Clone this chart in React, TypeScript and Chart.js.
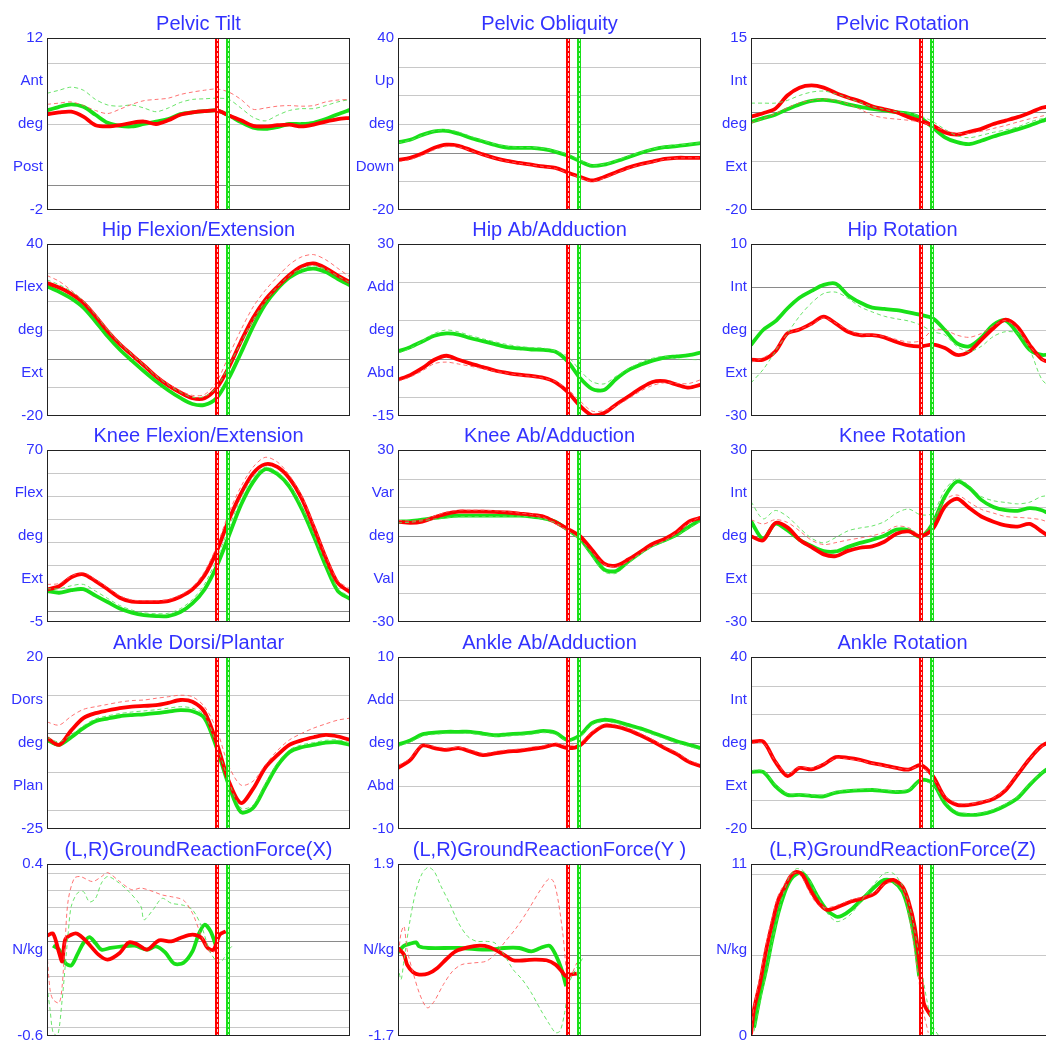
import React, { useEffect, useRef } from "react";
import { Chart, registerables } from "chart.js";
Chart.register(...registerables);

// ---------- shared ----------
const PCT = [0, 4, 8, 12, 16, 20, 24, 28, 32, 36, 40, 44, 48, 52, 56, 60, 64, 68, 72, 76, 80, 84, 88, 92, 96, 100];
const EVENT_RED = 56;
const EVENT_GREEN = 59.7;

// ---------- Pelvic Tilt ----------
const TILT_RED = [5.8, 5.95, 6.0, 5.6, 4.9, 4.8, 4.9, 5.1, 5.2, 5.0, 5.3, 5.75, 5.95, 6.05, 6.1, 5.7, 5.3, 4.85, 4.8, 4.9, 4.95, 4.8, 4.95, 5.2, 5.4, 5.5];
const TILT_GREEN = [6.1, 6.4, 6.6, 6.4, 5.75, 5.1, 4.85, 4.8, 5.0, 5.2, 5.4, 5.8, 5.95, 6.05, 6.1, 5.7, 5.15, 4.7, 4.6, 4.75, 5.0, 5.0, 5.1, 5.4, 5.8, 6.15];
const TILT_RED_REF = [6.6, 6.7, 6.8, 6.5, 6.1, 5.85, 6.2, 6.6, 6.9, 7.0, 7.1, 7.4, 7.6, 7.75, 7.85, 7.6, 7.0, 6.2, 6.3, 6.45, 6.5, 6.45, 6.5, 6.8, 6.95, 7.0];
const TILT_GREEN_REF = [7.5, 7.75, 8.0, 7.75, 7.0, 6.55, 6.45, 6.55, 6.3, 6.0, 6.3, 6.75, 7.0, 7.05, 7.1, 7.0, 6.3, 5.55, 5.25, 5.7, 6.1, 6.25, 6.25, 6.5, 6.8, 7.0];

// ---------- Pelvic Obliquity ----------
const OBL_RED = [-2.5, -1.8, -0.3, 1.7, 2.8, 2.4, 0.9, -0.6, -1.9, -2.9, -3.6, -4.2, -4.8, -5.3, -6.9, -8.4, -9.7, -8.5, -6.8, -5.2, -4.0, -3.1, -2.2, -1.8, -1.8, -1.8];
const OBL_GREEN = [3.65, 4.5, 6.2, 7.4, 7.6, 6.6, 5.1, 3.9, 2.7, 1.8, 1.65, 1.65, 1.2, 0.3, -1.0, -3.0, -4.6, -4.2, -3.0, -1.6, -0.1, 1.1, 1.9, 2.3, 2.8, 3.3];
const OBL_RED_REF = [-3.2, -2.4, -0.9, 1.0, 2.1, 2.0, 0.7, -0.8, -2.0, -3.0, -3.7, -4.3, -4.9, -5.5, -7.1, -8.7, -10.0, -8.9, -7.1, -5.5, -4.2, -3.3, -2.3, -1.9, -1.8, -1.8];
const OBL_GREEN_REF = [3.4, 4.3, 6.0, 7.6, 8.0, 7.2, 5.7, 4.3, 3.0, 2.2, 1.9, 1.8, 1.5, 0.6, -0.5, -2.5, -4.3, -4.0, -2.7, -1.2, 0.2, 1.3, 2.1, 2.6, 3.0, 3.5];

// ---------- Pelvic Rotation ----------
const PROT_RED = [-1.0, -0.3, 0.6, 3.3, 4.9, 5.35, 4.9, 3.8, 2.9, 2.1, 1.1, 0.5, -0.1, -1.1, -1.9, -2.8, -4.2, -4.65, -4.1, -3.5, -2.5, -1.8, -1.1, -0.2, 0.8, 1.3];
const PROT_GREEN = [-2.1, -1.3, -0.6, 0.5, 1.5, 2.2, 2.4, 2.1, 1.5, 1.0, 0.6, 0.25, -0.1, -0.4, -1.3, -3.2, -5.2, -6.2, -6.6, -5.9, -5.05, -4.3, -3.6, -2.8, -1.9, -1.1];
const PROT_RED_REF = [-2.3, -1.4, -0.4, 0.8, 1.8, 2.3, 2.6, 2.3, 1.6, 0.5, -0.7, -1.25, -1.5, -1.75, -2.1, -3.0, -3.8, -4.4, -4.4, -4.0, -3.4, -2.8, -2.1, -1.45, -0.9, -0.3];
const PROT_GREEN_REF = [1.75, 1.75, 1.75, 2.3, 3.3, 4.0, 4.2, 3.65, 2.8, 1.9, 1.06, 0.5, 0.0, -0.3, -0.9, -2.0, -3.6, -4.9, -5.3, -4.8, -4.2, -3.7, -3.1, -2.1, -1.4, -0.8];

// ---------- Hip Flexion/Extension ----------
const HFLX_RED = [26.4, 24.8, 22.6, 19.5, 14.8, 9.6, 5.1, 1.3, -2.4, -6.2, -9.3, -11.8, -13.8, -13.8, -10.2, -3.0, 6.0, 14.2, 20.5, 25.1, 29.2, 32.2, 33.2, 31.6, 29.0, 26.7];
const HFLX_GREEN = [25.2, 23.3, 21.0, 17.8, 13.0, 7.8, 3.2, -0.7, -4.4, -7.9, -11.0, -13.7, -15.8, -16.1, -13.7, -6.8, 2.0, 11.2, 18.9, 24.3, 28.3, 30.6, 31.4, 30.2, 27.8, 25.6];
const HFLX_RED_REF = [29.0, 27.0, 23.8, 20.2, 15.5, 10.2, 5.6, 1.7, -2.0, -5.8, -8.8, -11.2, -12.8, -12.5, -8.0, 1.0, 10.0, 18.0, 23.8, 28.5, 32.8, 35.5, 36.3, 34.5, 31.5, 28.5];
const HFLX_GREEN_REF = [27.5, 25.8, 23.5, 20.0, 15.2, 10.0, 5.3, 1.4, -2.3, -6.1, -9.2, -11.7, -13.5, -13.2, -10.0, -2.5, 5.5, 13.5, 20.0, 25.0, 29.0, 31.5, 32.4, 31.2, 28.8, 26.5];

// ---------- Hip Ab/Adduction ----------
const HABD_RED = [-5.5, -4.3, -2.5, -0.3, 0.76, -0.3, -1.3, -2.2, -3.1, -3.7, -4.2, -4.5, -5.0, -6.2, -8.7, -12.3, -14.8, -14.2, -12.0, -9.9, -7.8, -6.1, -5.9, -6.8, -7.6, -6.8];
const HABD_GREEN = [1.9, 3.0, 4.5, 6.0, 6.6, 6.3, 5.35, 4.6, 3.8, 3.0, 2.7, 2.4, 2.3, 1.8, -0.7, -5.0, -7.9, -8.2, -5.3, -3.0, -1.6, -0.5, 0.3, 0.6, 0.9, 1.6];
const HABD_RED_REF = [-5.9, -4.8, -3.2, -1.3, -0.9, -1.4, -2.0, -2.6, -3.3, -3.8, -4.3, -4.6, -5.1, -6.0, -8.0, -11.0, -13.7, -13.6, -12.3, -10.5, -8.5, -7.0, -6.3, -6.5, -6.5, -5.5];
const HABD_GREEN_REF = [1.45, 2.7, 4.6, 6.6, 7.5, 7.0, 6.0, 5.2, 4.4, 3.7, 3.2, 2.9, 2.75, 2.0, 0.6, -3.0, -6.0, -6.6, -4.6, -2.7, -1.0, 0.1, 0.6, -0.1, -0.2, -0.3];

// ---------- Hip Rotation ----------
const HROT_RED = [-16.9, -16.9, -15.0, -10.8, -9.9, -8.5, -6.9, -8.5, -10.4, -11.2, -11.2, -11.7, -12.8, -13.6, -13.8, -13.4, -14.2, -15.8, -15.0, -12.3, -9.6, -7.6, -9.3, -13.5, -16.8, -17.7];
const HROT_GREEN = [-13.5, -10.0, -8.0, -5.0, -2.5, -0.9, 0.5, 0.77, -1.9, -3.6, -4.8, -5.1, -5.4, -5.9, -6.5, -7.3, -10.0, -13.1, -13.8, -11.8, -8.8, -7.8, -10.8, -14.6, -15.8, -15.5];
const HROT_RED_REF = [-17.5, -16.5, -14.5, -11.0, -9.8, -8.7, -7.2, -8.4, -10.0, -11.0, -11.2, -11.5, -12.2, -12.8, -12.5, -10.0, -10.0, -11.2, -11.7, -10.8, -9.0, -7.8, -9.8, -13.8, -16.8, -18.8];
const HROT_GREEN_REF = [-22.3, -19.2, -15.0, -10.8, -6.8, -3.7, -1.5, -1.2, -2.6, -4.6, -5.8, -6.8, -7.4, -7.9, -8.85, -10.4, -11.15, -13.85, -15.0, -13.8, -11.5, -10.4, -10.8, -14.6, -21.5, -23.8];

// ---------- Knee Flexion/Extension ----------
const KFLX_RED = [9.2, 10.6, 14.5, 15.8, 12.8, 9.3, 5.6, 3.9, 3.7, 3.7, 4.1, 6.0, 9.2, 15.3, 25.8, 39.5, 51.0, 59.8, 63.8, 62.6, 57.6, 49.0, 36.5, 23.0, 12.0, 8.0];
const KFLX_GREEN = [8.5, 7.75, 8.9, 9.3, 6.5, 3.7, 0.9, -0.9, -2.0, -2.4, -2.4, -0.65, 3.1, 9.2, 19.3, 32.5, 46.0, 56.0, 61.6, 59.5, 54.0, 44.5, 32.5, 19.5, 8.5, 5.1];
const KFLX_RED_REF = [11.4, 11.8, 15.0, 16.5, 13.5, 10.0, 6.4, 4.6, 4.3, 4.3, 4.8, 6.8, 10.2, 17.0, 28.0, 42.5, 54.0, 62.5, 66.8, 64.8, 59.0, 50.0, 37.5, 24.0, 13.0, 9.5];
const KFLX_GREEN_REF = [9.5, 9.5, 10.8, 11.4, 8.5, 5.3, 2.2, 0.2, -1.0, -1.4, -1.2, 0.8, 4.8, 11.5, 22.5, 36.0, 49.0, 58.0, 62.5, 60.5, 55.0, 45.5, 33.5, 20.5, 9.5, 6.0];

// ---------- Knee Ab/Adduction ----------
const KABD_RED = [5.0, 4.6, 5.0, 6.5, 7.8, 8.5, 8.5, 8.5, 8.4, 8.2, 7.8, 7.4, 6.8, 4.8, 2.5, 0.0, -4.8, -9.6, -10.3, -8.2, -5.5, -2.8, -1.0, 1.5, 5.0, 6.4];
const KABD_GREEN = [5.0, 5.2, 5.7, 6.3, 6.8, 7.1, 7.1, 7.1, 7.1, 7.1, 7.1, 6.8, 6.2, 5.0, 2.2, -0.8, -6.3, -11.7, -12.2, -8.9, -5.8, -3.2, -1.5, 0.5, 3.2, 5.7];
const KABD_RED_REF = [5.5, 5.2, 5.6, 7.0, 8.3, 9.0, 9.0, 9.0, 8.8, 8.5, 8.0, 7.5, 6.5, 4.2, 1.8, -1.0, -5.5, -9.8, -10.8, -8.8, -6.0, -3.5, -1.5, 1.2, 4.5, 6.8];
const KABD_GREEN_REF = [4.6, 4.8, 5.3, 5.9, 6.4, 6.7, 6.8, 6.8, 6.8, 6.9, 6.9, 6.6, 6.0, 4.6, 1.8, -1.5, -7.0, -12.5, -13.0, -9.5, -6.3, -3.6, -1.9, 0.2, 2.8, 5.2];

// ---------- Knee Rotation ----------
const KROT_RED = [-0.1, -1.5, 4.5, 3.0, -1.3, -3.9, -6.4, -7.0, -5.2, -4.1, -3.6, -2.0, 0.8, 1.6, -0.1, 2.5, 10.3, 13.0, 9.8, 6.8, 5.0, 3.7, 3.3, 4.2, 1.5, -1.3];
const KROT_GREEN = [5.1, -1.0, 4.3, 2.0, -1.3, -3.5, -5.3, -5.4, -3.8, -2.4, -1.3, 0.1, 2.2, 2.0, -0.35, 4.5, 13.8, 19.0, 16.8, 12.6, 10.1, 9.0, 8.8, 9.7, 9.0, 6.8];
const KROT_RED_REF = [5.7, 4.2, 5.7, 4.75, 1.8, -1.5, -3.0, -2.3, -1.4, -0.7, 0.1, 1.3, 3.4, 2.9, 0.5, 5.1, 12.6, 14.3, 11.8, 9.3, 8.0, 6.8, 6.5, 6.2, 5.6, 3.9];
const KROT_GREEN_REF = [12.0, 6.0, 8.9, 6.8, 2.8, -0.8, -2.4, -0.5, 1.8, 2.8, 3.5, 5.0, 8.0, 9.4, 7.4, 8.0, 16.1, 20.0, 17.5, 13.8, 12.3, 11.7, 11.2, 11.8, 13.8, 14.0];

// ---------- Ankle Dorsi/Plantar ----------
const ADP_RED = [-1.2, -3.0, 0.8, 4.0, 5.3, 6.0, 6.6, 7.0, 7.2, 7.4, 8.0, 8.75, 8.3, 5.6, -2.5, -12.5, -18.2, -14.5, -9.0, -5.7, -3.0, -1.8, -1.0, -0.4, -0.8, -1.7];
const ADP_GREEN = [-1.7, -3.0, -1.0, 1.4, 3.2, 3.9, 4.5, 4.8, 5.0, 5.3, 5.7, 6.1, 5.8, 4.0, -3.8, -13.5, -20.6, -19.5, -14.0, -8.5, -4.9, -3.6, -3.0, -2.4, -2.3, -3.0];
const ADP_RED_REF = [3.0, 2.2, 4.5, 6.3, 7.0, 7.6, 8.2, 8.6, 8.75, 9.2, 9.6, 10.0, 9.6, 7.0, 1.0, -8.5, -13.5, -12.5, -8.3, -4.5, -1.7, 0.0, 1.4, 2.5, 3.5, 4.0];
const ADP_GREEN_REF = [-1.0, -2.2, -0.3, 2.0, 3.8, 4.6, 5.2, 5.6, 5.9, 6.2, 6.6, 7.0, 6.6, 4.8, -3.0, -12.5, -19.5, -18.8, -13.2, -7.8, -4.3, -3.0, -2.4, -1.8, -1.7, -2.4];

// ---------- Ankle Ab/Adduction ----------
const AABD_RED = [-2.9, -2.0, -0.3, -0.6, -0.8, -0.6, -1.0, -1.4, -1.2, -1.0, -0.9, -0.7, -0.5, -0.2, -0.6, -0.3, 1.1, 2.0, 1.9, 1.5, 0.9, 0.2, -0.6, -1.3, -2.2, -2.7];
const AABD_GREEN = [-0.2, 0.3, 1.0, 1.2, 1.3, 1.3, 1.3, 1.1, 0.9, 1.0, 1.1, 1.2, 1.4, 1.2, 0.35, 0.9, 2.3, 2.7, 2.5, 2.1, 1.7, 1.2, 0.7, 0.2, -0.2, -0.6];
const AABD_RED_REF = [-2.6, -1.8, -0.2, -0.4, -0.6, -0.5, -0.8, -1.2, -1.0, -0.8, -0.7, -0.5, -0.3, 0.0, -0.3, 0.0, 1.3, 2.2, 2.1, 1.7, 1.1, 0.4, -0.4, -1.1, -2.0, -2.5];
const AABD_GREEN_REF = [-0.4, 0.1, 0.8, 1.0, 1.1, 1.1, 1.1, 0.9, 0.8, 0.8, 0.9, 1.0, 1.2, 1.0, 0.2, 0.7, 2.1, 2.5, 2.3, 1.9, 1.5, 1.0, 0.5, 0.0, -0.4, -0.8];

// ---------- Ankle Rotation ----------
const AROT_RED = [10.4, 10.5, 3.5, -1.5, 1.3, 0.8, 2.5, 5.1, 4.8, 4.1, 3.0, 2.2, 1.3, 0.7, 2.3, -1.5, -9.0, -11.6, -11.6, -10.8, -9.5, -6.5, -1.0, 4.5, 9.0, 11.0];
const AROT_GREEN = [-0.1, -0.1, -5.0, -8.1, -8.1, -8.5, -8.6, -7.3, -6.8, -6.5, -6.4, -6.8, -7.1, -6.6, -2.9, -4.0, -11.0, -14.6, -15.1, -14.8, -13.7, -11.8, -9.2, -4.6, -0.5, 2.5];
const AROT_RED_REF = [9.8, 10.0, 3.8, -0.8, 1.6, 1.2, 2.8, 4.6, 4.4, 3.8, 2.9, 2.0, 1.2, 0.8, 1.8, -2.0, -8.5, -11.0, -11.2, -10.5, -9.2, -6.0, -0.8, 4.6, 8.8, 10.6];
const AROT_GREEN_REF = [0.4, 0.3, -4.6, -7.6, -7.8, -8.1, -8.2, -7.0, -6.5, -6.2, -6.0, -6.4, -6.8, -6.2, -3.4, -4.6, -10.5, -14.0, -14.6, -14.4, -13.2, -11.3, -8.8, -4.2, -0.3, 2.6];

// ---------- Ground reaction force X ----------
const GRFX_RED_PCT = [0, 2, 4, 5, 6, 8, 10, 13, 17, 20, 24, 27, 30, 33, 37, 41, 44, 48, 51, 53, 55, 57, 59];
const GRFX_RED = [-0.017, -0.005, -0.117, -0.166, -0.04, -0.011, -0.005, -0.05, -0.127, -0.156, -0.117, -0.056, -0.069, -0.098, -0.044, -0.05, -0.03, -0.011, -0.03, -0.088, -0.098, -0.011, 0.008];
const GRFX_GREEN_PCT = [2, 4, 6, 8, 10, 12, 14, 16, 18, 21, 25, 29, 33, 36, 39, 42, 45, 48, 50, 52, 54, 56];
const GRFX_GREEN = [-0.075, -0.098, -0.175, -0.19, -0.127, -0.06, -0.025, -0.06, -0.098, -0.088, -0.079, -0.075, -0.098, -0.079, -0.114, -0.179, -0.175, -0.108, -0.011, 0.047, 0.008, -0.088];
const GRFX_RED_REF_PCT = [0, 1, 2, 4, 5, 6, 7, 9, 11, 15, 18, 20, 24, 28, 31, 35, 38, 41, 45, 48, 51, 54, 56];
const GRFX_RED_REF = [-0.117, -0.33, -0.388, -0.407, -0.31, -0.04, 0.19, 0.317, 0.327, 0.298, 0.327, 0.35, 0.298, 0.25, 0.26, 0.24, 0.22, 0.21, 0.19, 0.114, -0.02, -0.117, -0.098];
const GRFX_GREEN_REF_PCT = [0, 1, 2, 3.5, 5, 6, 7, 8, 10, 12, 14, 16, 18, 20, 23, 27, 31, 32, 35, 38, 41, 45, 48, 51, 54, 57, 60, 61];
const GRFX_GREEN_REF = [-0.31, -0.445, -0.58, -0.6, -0.39, -0.195, 0, 0.153, 0.23, 0.24, 0.18, 0.2, 0.29, 0.327, 0.3, 0.24, 0.153, 0.076, 0.134, 0.2, 0.172, 0.16, 0.134, 0.037, -0.117, -0.175, -0.098, -0.079];

// ---------- Ground reaction force Y ----------
const GRFY_RED_PCT = [0, 2, 3, 5, 7, 10, 13, 16, 19, 23, 27, 30, 34, 38, 42, 45, 49, 52, 54, 55.5, 57, 59];
const GRFY_RED = [0.142, 0.003, -0.206, -0.365, -0.414, -0.393, -0.275, -0.088, 0.072, 0.155, 0.19, 0.163, 0.038, -0.115, -0.115, -0.1, -0.115, -0.206, -0.345, -0.449, -0.414, -0.393];
const GRFY_GREEN_PCT = [0, 2, 4, 6, 7, 10, 20, 30, 35, 40, 44, 47, 50, 52, 54, 55.5];
const GRFY_GREEN = [0.05, 0.19, 0.232, 0.26, 0.176, 0.142, 0.142, 0.107, 0.142, 0.142, 0.072, 0.142, 0.19, 0.003, -0.31, -0.657];
const GRFY_RED_REF_PCT = [0, 1, 2, 3, 5, 7, 9, 10, 12, 15, 18, 21, 25, 29, 32, 35, 39, 43, 47, 50, 51.5, 53, 54.5, 56, 57, 59];
const GRFY_RED_REF = [-0.1, 0.455, 0.594, 0.107, -0.38, -0.796, -1.074, -1.109, -0.97, -0.62, -0.345, -0.206, -0.17, -0.136, 0.003, 0.246, 0.559, 0.94, 1.358, 1.6, 1.51, 1.08, 0.385, -0.518, -0.45, -0.17];
const GRFY_GREEN_REF_PCT = [0, 1, 2, 4, 6, 8, 10, 12, 14, 17, 20, 23, 26, 29, 32, 35, 38, 41, 44, 47, 50, 52, 53.5, 55, 56.5, 58, 60, 61];
const GRFY_GREEN_REF = [-0.24, -0.518, -0.1, 0.733, 1.358, 1.705, 1.83, 1.74, 1.46, 1.08, 0.663, 0.385, 0.281, 0.281, 0.246, 0.003, -0.31, -0.518, -0.796, -1.143, -1.456, -1.63, -1.595, -1.213, -0.588, -0.38, -0.17, -0.066];

// ---------- Ground reaction force Z ----------
const GRFZ_RED_PCT = [0, 1, 3, 5, 7, 9, 11, 13, 15, 17, 19, 22, 25, 29, 33, 37, 41, 44, 47, 50, 52, 54, 56, 57, 58, 59.5];
const GRFZ_RED = [0.1, 1.7, 3.4, 5.5, 7.2, 8.7, 9.45, 10.2, 10.5, 10.3, 9.56, 8.6, 8.07, 8.28, 8.6, 8.81, 9.13, 9.77, 9.98, 9.56, 8.6, 7.0, 4.03, 2.12, 1.7, 1.27];
const GRFZ_GREEN_PCT = [1, 3, 5, 7, 9, 11, 13, 15, 17, 19, 22, 25, 28, 30, 33, 37, 41, 44, 47, 50, 52, 54, 55.5];
const GRFZ_GREEN = [0.53, 2.55, 4.25, 6.16, 7.86, 9.13, 9.98, 10.36, 10.4, 9.98, 8.92, 8.07, 7.64, 7.69, 8.07, 8.81, 9.56, 9.98, 9.87, 9.24, 8.07, 6.16, 3.82];
const GRFZ_RED_REF_PCT = [0, 1, 3, 5, 7, 9, 11, 13, 15, 17, 19, 22, 25, 29, 33, 37, 41, 44, 47, 50, 52, 54, 55.5, 57, 58.5];
const GRFZ_RED_REF = [0.1, 1.9, 3.8, 5.9, 7.6, 9.0, 9.7, 10.3, 10.45, 10.1, 9.3, 8.4, 8.2, 8.4, 8.7, 8.9, 9.2, 9.7, 9.8, 9.3, 7.86, 5.5, 3.4, 1.49, 0.21];
const GRFZ_GREEN_REF_PCT = [1, 3, 5, 7, 9, 11, 13, 15, 17, 19, 22, 25, 28, 30, 33, 37, 41, 44, 47, 50, 52, 54, 55.5, 58, 60, 62];
const GRFZ_GREEN_REF = [0.3, 2.2, 4.0, 6.0, 7.8, 9.3, 10.3, 10.7, 10.6, 10.1, 8.92, 7.9, 7.33, 7.4, 7.8, 8.8, 9.8, 10.4, 10.4, 9.6, 8.6, 6.8, 5.1, 2.34, 0.64, 0.0];

// ---------- panel definitions ----------
type Series = { x: number[]; y: number[] };
type Panel = {
  title: string;
  min: number;
  max: number;
  names: (string | null)[]; // upper quarter, middle, lower quarter
  grid: number[];
  zero: number | null;
  red: Series; green: Series; redRef: Series; greenRef: Series;
};
const s = (x: number[], y: number[]): Series => ({ x, y });

const PANELS: Panel[] = [
  { title: "Pelvic Tilt", min: -2, max: 12, names: ["Ant", "deg", "Post"], grid: [10, 5, 0], zero: 0,
    red: s(PCT, TILT_RED), green: s(PCT, TILT_GREEN), redRef: s(PCT, TILT_RED_REF), greenRef: s(PCT, TILT_GREEN_REF) },
  { title: "Pelvic Obliquity", min: -20, max: 40, names: ["Up", "deg", "Down"], grid: [30, 20, 10, 0, -10], zero: 0,
    red: s(PCT, OBL_RED), green: s(PCT, OBL_GREEN), redRef: s(PCT, OBL_RED_REF), greenRef: s(PCT, OBL_GREEN_REF) },
  { title: "Pelvic Rotation", min: -20, max: 15, names: ["Int", "deg", "Ext"], grid: [10, 0, -10], zero: 0,
    red: s(PCT, PROT_RED), green: s(PCT, PROT_GREEN), redRef: s(PCT, PROT_RED_REF), greenRef: s(PCT, PROT_GREEN_REF) },
  { title: "Hip Flexion/Extension", min: -20, max: 40, names: ["Flex", "deg", "Ext"], grid: [30, 20, 10, 0, -10], zero: 0,
    red: s(PCT, HFLX_RED), green: s(PCT, HFLX_GREEN), redRef: s(PCT, HFLX_RED_REF), greenRef: s(PCT, HFLX_GREEN_REF) },
  { title: "Hip Ab/Adduction", min: -15, max: 30, names: ["Add", "deg", "Abd"], grid: [20, 10, 0, -10], zero: 0,
    red: s(PCT, HABD_RED), green: s(PCT, HABD_GREEN), redRef: s(PCT, HABD_RED_REF), greenRef: s(PCT, HABD_GREEN_REF) },
  { title: "Hip Rotation", min: -30, max: 10, names: ["Int", "deg", "Ext"], grid: [0, -10, -20], zero: 0,
    red: s(PCT, HROT_RED), green: s(PCT, HROT_GREEN), redRef: s(PCT, HROT_RED_REF), greenRef: s(PCT, HROT_GREEN_REF) },
  { title: "Knee Flexion/Extension", min: -5, max: 70, names: ["Flex", "deg", "Ext"], grid: [60, 50, 40, 30, 20, 10, 0], zero: 0,
    red: s(PCT, KFLX_RED), green: s(PCT, KFLX_GREEN), redRef: s(PCT, KFLX_RED_REF), greenRef: s(PCT, KFLX_GREEN_REF) },
  { title: "Knee Ab/Adduction", min: -30, max: 30, names: ["Var", "deg", "Val"], grid: [20, 10, 0, -10, -20], zero: 0,
    red: s(PCT, KABD_RED), green: s(PCT, KABD_GREEN), redRef: s(PCT, KABD_RED_REF), greenRef: s(PCT, KABD_GREEN_REF) },
  { title: "Knee Rotation", min: -30, max: 30, names: ["Int", "deg", "Ext"], grid: [20, 10, 0, -10, -20], zero: 0,
    red: s(PCT, KROT_RED), green: s(PCT, KROT_GREEN), redRef: s(PCT, KROT_RED_REF), greenRef: s(PCT, KROT_GREEN_REF) },
  { title: "Ankle Dorsi/Plantar", min: -25, max: 20, names: ["Dors", "deg", "Plan"], grid: [10, 0, -10, -20], zero: 0,
    red: s(PCT, ADP_RED), green: s(PCT, ADP_GREEN), redRef: s(PCT, ADP_RED_REF), greenRef: s(PCT, ADP_GREEN_REF) },
  { title: "Ankle Ab/Adduction", min: -10, max: 10, names: ["Add", "deg", "Abd"], grid: [5, 0, -5], zero: 0,
    red: s(PCT, AABD_RED), green: s(PCT, AABD_GREEN), redRef: s(PCT, AABD_RED_REF), greenRef: s(PCT, AABD_GREEN_REF) },
  { title: "Ankle Rotation", min: -20, max: 40, names: ["Int", "deg", "Ext"], grid: [30, 20, 10, 0, -10], zero: 0,
    red: s(PCT, AROT_RED), green: s(PCT, AROT_GREEN), redRef: s(PCT, AROT_RED_REF), greenRef: s(PCT, AROT_GREEN_REF) },
  { title: "(L,R)GroundReactionForce(X)", min: -0.6, max: 0.4, names: [null, "N/kg", null],
    grid: [0.35, 0.25, 0.15, 0.05, -0.05, -0.15, -0.25, -0.35, -0.45, -0.55], zero: -0.05,
    red: s(GRFX_RED_PCT, GRFX_RED), green: s(GRFX_GREEN_PCT, GRFX_GREEN),
    redRef: s(GRFX_RED_REF_PCT, GRFX_RED_REF), greenRef: s(GRFX_GREEN_REF_PCT, GRFX_GREEN_REF) },
  { title: "(L,R)GroundReactionForce(Y )", min: -1.7, max: 1.9, names: [null, "N/kg", null], grid: [1, 0, -1], zero: 0,
    red: s(GRFY_RED_PCT, GRFY_RED), green: s(GRFY_GREEN_PCT, GRFY_GREEN),
    redRef: s(GRFY_RED_REF_PCT, GRFY_RED_REF), greenRef: s(GRFY_GREEN_REF_PCT, GRFY_GREEN_REF) },
  { title: "(L,R)GroundReactionForce(Z)", min: 0, max: 11, names: [null, "N/kg", null], grid: [10.35, 5.2], zero: null,
    red: s(GRFZ_RED_PCT, GRFZ_RED), green: s(GRFZ_GREEN_PCT, GRFZ_GREEN),
    redRef: s(GRFZ_RED_REF_PCT, GRFZ_RED_REF), greenRef: s(GRFZ_GREEN_REF_PCT, GRFZ_GREEN_REF) },
];

// ---------- layout / style ----------
const COL_LEFT = [47, 398, 751];
const ROW_TOP = [38, 244, 450, 657, 864];
const PLOT_W = 303;
const PLOT_H = 172;
const PAD_L = 50, PAD_T = 40, PAD_R = 6, PAD_B = 14;
const CW = PAD_L + PLOT_W + PAD_R;
const CH = PAD_T + PLOT_H + PAD_B;
const BLUE = "#3232ff";
const RED = "#ff0000";
const GREEN = "#18e018";
const FONT = '"Liberation Sans", Arial, sans-serif';

const toXY = (sr: Series) => sr.x.map((x, i) => ({ x, y: sr.y[i] }));

const panelPlugin = (p: Panel) => ({
  id: "gaitPanel",
  beforeDatasetsDraw(chart: any) {
    const { ctx, chartArea: a, scales } = chart;
    ctx.save();
    p.grid.forEach((v) => {
      const y = Math.round(scales.y.getPixelForValue(v)) + 0.5;
      ctx.beginPath();
      ctx.strokeStyle = p.zero !== null && v === p.zero ? "#8a8a8a" : "#c8c8c8";
      ctx.lineWidth = 1;
      ctx.moveTo(a.left, y);
      ctx.lineTo(a.right, y);
      ctx.stroke();
    });
    ctx.restore();
  },
  afterDatasetsDraw(chart: any) {
    const { ctx, chartArea: a, scales } = chart;
    ctx.save();
    const ev = (v: number, col: string, light: string) => {
      const x = Math.round(scales.x.getPixelForValue(v));
      ctx.setLineDash([]);
      ctx.beginPath();
      ctx.strokeStyle = col;
      ctx.lineWidth = 4;
      ctx.moveTo(x, a.top);
      ctx.lineTo(x, a.bottom);
      ctx.stroke();
      ctx.beginPath();
      ctx.setLineDash([3, 2]);
      ctx.strokeStyle = light;
      ctx.lineWidth = 1;
      ctx.moveTo(x + 0.5, a.top);
      ctx.lineTo(x + 0.5, a.bottom);
      ctx.stroke();
    };
    ev(EVENT_RED, RED, "rgba(255,220,220,0.95)");
    ev(EVENT_GREEN, GREEN, "rgba(220,255,220,0.95)");
    ctx.setLineDash([]);
    ctx.strokeStyle = "#222";
    ctx.lineWidth = 1;
    ctx.strokeRect(a.left + 0.5, a.top + 0.5, a.right - a.left - 1, a.bottom - a.top - 1);
    ctx.fillStyle = BLUE;
    ctx.font = `20px ${FONT}`;
    ctx.textAlign = "center";
    ctx.textBaseline = "alphabetic";
    ctx.fillText(p.title, (a.left + a.right) / 2, a.top - 8.5);
    ctx.restore();
  },
});

function PanelChart({ p, left, top }: { p: Panel; left: number; top: number }) {
  const ref = useRef<HTMLCanvasElement>(null);
  useEffect(() => {
    if (!ref.current) return;
    const span = p.max - p.min;
    const tickVals = [p.max, p.min + span * 0.75, p.min + span * 0.5, p.min + span * 0.25, p.min];
    const tickLabels = [String(p.max), p.names[0] ?? "", p.names[1] ?? "", p.names[2] ?? "", String(p.min)];
    const line = (sr: Series, color: string, w: number, dash: number[]) => ({
      data: toXY(sr),
      borderColor: color,
      borderWidth: w,
      borderDash: dash,
      pointRadius: 0,
      tension: 0.3,
      fill: false,
    });
    const chart = new Chart(ref.current, {
      type: "line",
      data: {
        datasets: [
          line(p.redRef, "rgba(255,90,90,0.85)", 1, [4, 3]),
          line(p.greenRef, "rgba(90,225,90,0.9)", 1, [4, 3]),
          line(p.red, RED, 3.8, []),
          line(p.green, GREEN, 3.8, []),
        ] as any,
      },
      options: {
        responsive: false,
        animation: false,
        devicePixelRatio: 1,
        events: [],
        layout: { padding: { left: 0, top: PAD_T, right: PAD_R, bottom: PAD_B } },
        plugins: { legend: { display: false }, tooltip: { enabled: false }, title: { display: false } },
        scales: {
          x: { type: "linear", min: 0, max: 100, display: false },
          y: {
            type: "linear",
            min: p.min,
            max: p.max,
            position: "left",
            afterFit: (sc: any) => { sc.width = PAD_L; },
            afterBuildTicks: (sc: any) => { sc.ticks = tickVals.map((v) => ({ value: v })); },
            grid: { display: false, drawTicks: false },
            border: { display: false },
            ticks: {
              autoSkip: false,
              color: BLUE,
              padding: 4,
              font: { family: FONT, size: 15 },
              callback: (_v: any, i: number) => tickLabels[i],
            },
          },
        } as any,
      },
      plugins: [panelPlugin(p)],
    } as any);
    return () => chart.destroy();
  }, [p]);
  return (
    <canvas
      ref={ref}
      width={CW}
      height={CH}
      style={{ position: "absolute", left: left - PAD_L, top: top - PAD_T, width: CW, height: CH }}
    />
  );
}

export default function App() {
  return (
    <div style={{ position: "fixed", left: 0, top: 0, width: 1046, height: 1046, overflow: "hidden", background: "#fff" }}>
      {PANELS.map((p, i) => (
        <PanelChart key={i} p={p} left={COL_LEFT[i % 3]} top={ROW_TOP[Math.floor(i / 3)]} />
      ))}
    </div>
  );
}
